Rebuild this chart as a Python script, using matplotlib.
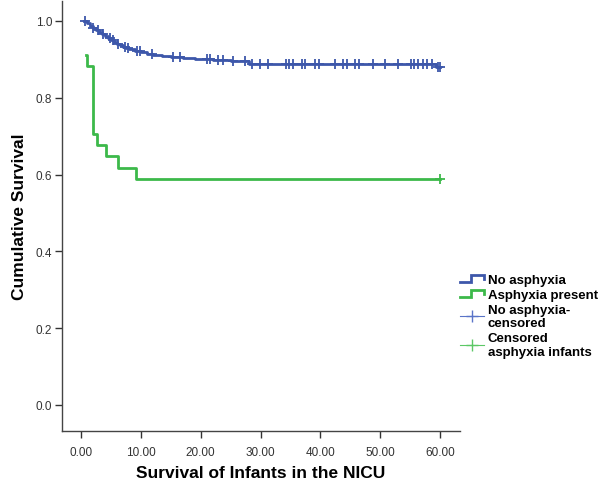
import numpy as np
import matplotlib
matplotlib.use("Agg")
import matplotlib.pyplot as plt
from matplotlib.lines import Line2D
from matplotlib.legend_handler import HandlerBase

plt.rcParams['font.family'] = ['Liberation Sans', 'DejaVu Sans']

# Kaplan-Meier steps: time of each step and survival after it
no_asph_times = [0.4, 1.0, 1.5, 2.0, 2.5, 3.0, 3.5, 4.0, 4.5, 5.0, 5.5, 6.0, 6.5, 7.0,
                 7.5, 8.0, 9.0, 10.0, 11.0, 12.0, 13.5, 15.0, 17.0, 19.0, 22.0, 25.0,
                 28.0, 59.3, 60.0]
no_asph_surv = [1.000, 0.994, 0.988, 0.982, 0.976, 0.971, 0.965, 0.960, 0.955, 0.950,
                0.945, 0.941, 0.937, 0.933, 0.930, 0.927, 0.922, 0.918, 0.915, 0.912,
                0.909, 0.906, 0.903, 0.900, 0.898, 0.896, 0.889, 0.880, 0.880]
no_asph_censored = [0.7, 2.0, 2.8, 3.7, 4.8, 5.3, 6.2, 7.4, 7.9, 9.4, 9.9, 11.9, 15.4,
                    16.6, 21.1, 21.6, 22.9, 23.7, 25.4, 27.4, 28.5, 29.9, 31.3, 34.3,
                    34.8, 35.4, 36.9, 37.4, 39.1, 39.7, 42.5, 43.8, 44.5, 45.8, 46.4,
                    48.8, 50.8, 53.0, 55.2, 55.7, 56.4, 57.1, 57.8, 58.6, 59.7, 60.0]

asph_times = [0.8, 1.0, 2.0, 2.6, 4.1, 6.2, 9.2, 60.0]
asph_surv = [0.912, 0.882, 0.706, 0.676, 0.647, 0.618, 0.588, 0.588]
asph_censored = [60.0]

x_ticks = [0, 10, 20, 30, 40, 50, 60]
y_ticks = [0.0, 0.2, 0.4, 0.6, 0.8, 1.0]

BLUE = '#3D57AA'
GREEN = '#3CB94A'


def surv_at(times, surv, t):
    i = np.searchsorted(times, t, side='right') - 1
    return np.asarray(surv)[np.clip(i, 0, len(surv) - 1)]


class StepHandler(HandlerBase):
    # little step glyph for the legend lines
    def create_artists(self, legend, orig_handle, xdescent, ydescent, width, height,
                       fontsize, trans):
        xs = np.array([0, 0.45, 0.45, 1.0, 1.0]) * width - xdescent
        ys = np.array([0.15, 0.15, 0.85, 0.85, 0.45]) * height - ydescent
        ln = Line2D(xs, ys, color=orig_handle.get_color(), lw=orig_handle.get_linewidth(),
                    solid_joinstyle='miter')
        ln.set_transform(trans)
        return [ln]


fig = plt.figure(figsize=(6.03, 4.81), dpi=100)
ax = fig.add_axes([62 / 603, 1 - 432 / 481, (460 - 62) / 603, 430 / 481])

l1, = ax.step(no_asph_times, no_asph_surv, where='post', color=BLUE, lw=2.0)
l2, = ax.step(asph_times, asph_surv, where='post', color=GREEN, lw=2.0)

c1, = ax.plot(no_asph_censored, surv_at(no_asph_times, no_asph_surv, no_asph_censored),
              ls='none', marker='+', ms=7, mew=1.3, color=BLUE)
c2, = ax.plot(asph_censored, surv_at(asph_times, asph_surv, asph_censored),
              ls='none', marker='+', ms=7, mew=1.3, color=GREEN)

ax.set_xlim(-3.2, 63.35)
ax.set_ylim(-0.068, 1.052)
ax.set_xticks(x_ticks)
ax.set_xticklabels([f'{v:.2f}' for v in x_ticks])
ax.set_yticks(y_ticks)
ax.set_yticklabels([f'{v:.1f}' for v in y_ticks])
ax.tick_params(axis='both', direction='out', length=5, width=1, color='#333333',
               labelsize=8.5, labelcolor='#333333', pad=2)
ax.tick_params(axis='x', pad=6)
for side in ['top', 'right']:
    ax.spines[side].set_visible(False)
for side in ['left', 'bottom']:
    ax.spines[side].set_color('#444444')
    ax.spines[side].set_linewidth(1)

ax.set_xlabel('Survival of Infants in the NICU', fontsize=12.5, fontweight='bold', labelpad=5)
ax.set_ylabel('Cumulative Survival', fontsize=12.5, fontweight='bold', labelpad=6)

blue_c = Line2D([], [], color='#5A74C8', marker='+', ls='-', lw=0.8, ms=9, mew=1)
green_c = Line2D([], [], color='#5CC866', marker='+', ls='-', lw=0.8, ms=9, mew=1)
fig.legend([l1, l2, blue_c, green_c],
           ['No asphyxia', 'Asphyxia present', 'No asphyxia-\ncensored',
            'Censored\nasphyxia infants'],
           handler_map={l1: StepHandler(), l2: StepHandler()},
           loc='upper left', bbox_to_anchor=(448 / 603, 1 - 263 / 481),
           frameon=False, handlelength=1.8, handletextpad=0.3, labelspacing=0.2,
           prop={'weight': 'bold', 'size': 9.5})

fig.savefig('out.png', dpi=100)
